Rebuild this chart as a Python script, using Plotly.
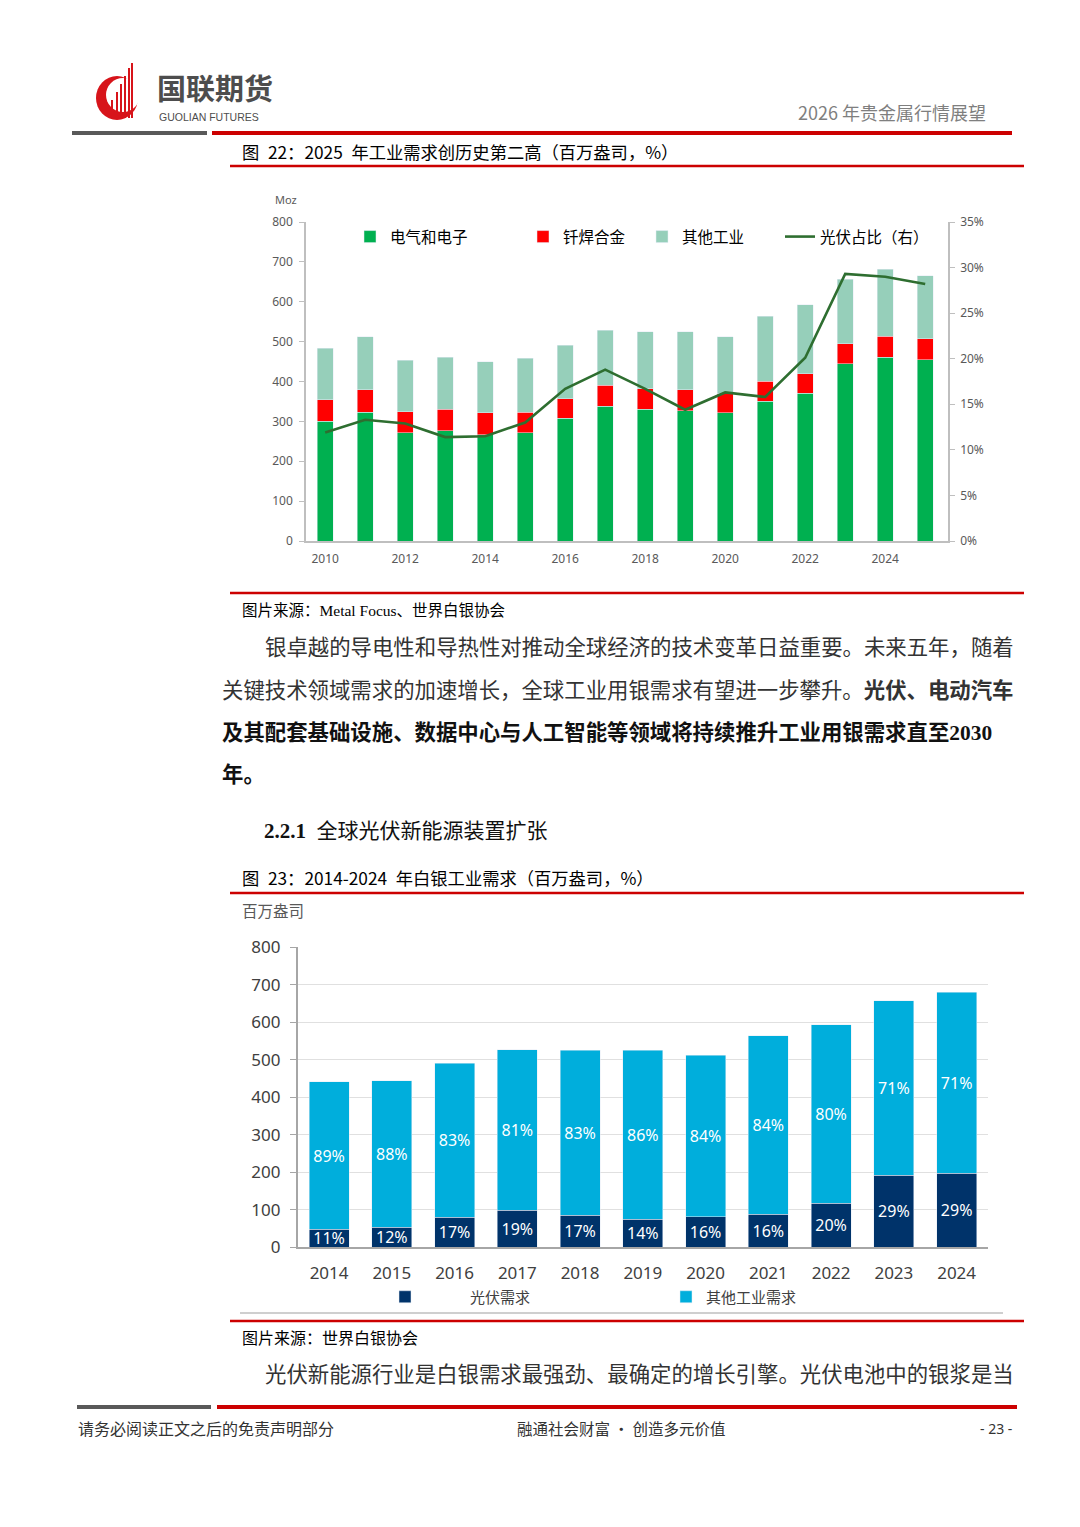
import plotly.graph_objects as go

# page is photographed at 1080x1527; the html body adds an 8px margin
PAGE_W, PAGE_H, BODY = 1080, 1527, 8
W, H = PAGE_W - 2 * BODY, PAGE_H - 2 * BODY

# ---- 图 22 数据（百万盎司 / 光伏占比）----
years_a = [2010, 2011, 2012, 2013, 2014, 2015, 2016, 2017,
           2018, 2019, 2020, 2021, 2022, 2023, 2024, 2025]
electrical = [300, 323, 271, 276, 267, 271, 308, 338,
              331, 327, 322, 351, 371, 445, 461, 455]
brazing = [54, 56, 53, 54, 55, 52, 49, 52,
           51, 52, 47, 50, 49, 50, 52, 52]
other_ind = [130, 133, 129, 131, 128, 135, 134, 138,
             143, 146, 143, 163, 172, 162, 168, 158]
pv_ratio = [0.119, 0.133, 0.129, 0.114, 0.115, 0.130, 0.167, 0.188,
            0.167, 0.144, 0.163, 0.158, 0.201, 0.293, 0.290, 0.282]
ticks_a = [2010, 2012, 2014, 2016, 2018, 2020, 2022, 2024]

# ---- 图 23 数据 ----
years_b = [2014, 2015, 2016, 2017, 2018, 2019, 2020, 2021, 2022, 2023, 2024]
pv_demand = [48, 53, 80, 99, 86, 75, 82, 88, 117, 192, 198]
other_demand = [393, 391, 411, 428, 439, 450, 430, 476, 476, 466, 482]
pv_share = [11, 12, 17, 19, 17, 14, 16, 16, 20, 29, 29]
other_share = [89, 88, 83, 81, 83, 86, 84, 84, 80, 71, 71]

CJK = "Noto Sans CJK SC"
RED = "#CC0000"
BODY_SIZE = 21.4


def px(x):
    return (x - BODY) / W


def py(y):
    return 1 - (y - BODY) / H


def hline(x0, x1, y, color, width):
    return dict(type="line", xref="paper", yref="paper",
                x0=px(x0), x1=px(x1), y0=py(y), y1=py(y),
                line=dict(color=color, width=width))


def label(x, y, text, size, color="#000", anchor="left", family=CJK, yanchor="middle"):
    return dict(x=px(x), y=py(y), xref="paper", yref="paper", text=text,
                showarrow=False, xanchor=anchor, yanchor=yanchor,
                font=dict(family=family, size=size, color=color))


fig = go.Figure()

# 图 22
fig.add_trace(go.Bar(x=years_a, y=electrical, name="电气和电子", width=0.4,
                     marker_color="#00B050", legend="legend"))
fig.add_trace(go.Bar(x=years_a, y=brazing, name="钎焊合金", width=0.4,
                     marker_color="#FF0000", legend="legend2"))
fig.add_trace(go.Bar(x=years_a, y=other_ind, name="其他工业", width=0.4,
                     marker_color="#96CFBA", legend="legend3"))
fig.add_trace(go.Scatter(x=years_a, y=pv_ratio, name="光伏占比（右）", yaxis="y2",
                         mode="lines", line=dict(color="#2E6E30", width=2.6),
                         legend="legend4"))

# 图 23
fig.add_trace(go.Bar(x=years_b, y=pv_demand, name="\u3000\u3000\u3000光伏需求",
                     xaxis="x2", yaxis="y3", width=0.64, marker_color="#00336A",
                     text=[f"{v}%" for v in pv_share], textposition="inside",
                     insidetextanchor="middle",
                     textfont=dict(family="Noto Sans", size=16, color="white"),
                     legend="legend5"))
fig.add_trace(go.Bar(x=years_b, y=other_demand, name="其他工业需求",
                     xaxis="x2", yaxis="y3", width=0.64, marker_color="#00AEDC",
                     text=[f"{v}%" for v in other_share], textposition="inside",
                     insidetextanchor="middle",
                     textfont=dict(family="Noto Sans", size=16, color="white"),
                     legend="legend6"))

tick_a = dict(family="Noto Sans", size=12, color="#595959")
tick_b = dict(family="Noto Sans", size=17, color="#404040")


def leg(x, y, size=15.5, color="#000"):
    return dict(x=px(x), y=py(y), xanchor="left", yanchor="middle",
                orientation="h", bgcolor="rgba(0,0,0,0)", borderwidth=0,
                font=dict(family=CJK, size=size, color=color))


shapes = [
    hline(72, 207, 133, "#595959", 4),
    hline(212, 1012, 133, RED, 4),
    hline(230, 1024, 166, RED, 2.5),
    hline(230, 1024, 593, RED, 2.5),
    hline(230, 1024, 893, RED, 2.5),
    hline(240, 1003, 1313, "#BFBFBF", 1.5),
    hline(230, 1024, 1321, RED, 2.5),
    hline(77, 211, 1407, "#595959", 4),
    hline(217, 1017, 1407, RED, 4),
    # logo
    dict(type="circle", xref="paper", yref="paper", x0=px(96), x1=px(138),
         y0=py(120), y1=py(76), fillcolor="#D7141A", line_width=0),
    dict(type="circle", xref="paper", yref="paper", x0=px(106), x1=px(140),
         y0=py(112), y1=py(78), fillcolor="white", line_width=0),
]
for xx, top in [(112, 100), (117, 92), (121, 84), (125, 76), (129, 68), (132, 63)]:
    shapes.append(dict(type="line", xref="paper", yref="paper", x0=px(xx), x1=px(xx),
                       y0=py(118), y1=py(top), line=dict(color="#D7141A", width=2)))

serif = "font-family:'Liberation Serif'"
annotations = [
    label(155, 110, "<b>国联期货</b>", 29, "#4D4D4D", yanchor="bottom"),
    label(157, 109, "GUOLIAN FUTURES", 10.5, "#4D4D4D", family="Liberation Sans", yanchor="top"),
    label(988, 112, "2026 年贵金属行情展望", 18, "#7F7F7F", anchor="right"),
    label(240, 151, "图\u200222：2025\u2002年工业需求创历史第二高（百万盎司，%）", 17.3),
    label(273, 200, "Moz", 11, "#595959", family="Noto Sans"),
    label(240, 609, f"图片来源：<span style=\"{serif}\">Metal Focus</span>、世界白银协会", 15.5),
    label(263, 645, "银卓越的导电性和导热性对推动全球经济的技术变革日益重要。未来五年，随着", BODY_SIZE, "#333"),
    label(220, 688, "关键技术领域需求的加速增长，全球工业用银需求有望进一步攀升。<b>光伏、电动汽车</b>", BODY_SIZE, "#333"),
    label(220, 730, f"<b>及其配套基础设施、数据中心与人工智能等领域将持续推升工业用银需求直至<span style=\"{serif}\">2030</span></b>", BODY_SIZE, "#111"),
    label(220, 772, "<b>年。</b>", BODY_SIZE, "#111"),
    label(262, 829, f"<b><span style=\"{serif}\">2.2.1</span></b>\u2002全球光伏新能源装置扩张", 21, "#111"),
    label(240, 878, "图\u200223：2014-2024\u2002年白银工业需求（百万盎司，%）", 17.3),
    label(240, 910, "百万盎司", 15.5, "#595959"),
    label(240, 1337, "图片来源：世界白银协会", 16),
    label(263, 1372, "光伏新能源行业是白银需求最强劲、最确定的增长引擎。光伏电池中的银浆是当", BODY_SIZE, "#333"),
    label(76, 1428, "请务必阅读正文之后的免责声明部分", 16, "#333"),
    label(621, 1428, "融通社会财富 • 创造多元价值", 15.5, "#333", anchor="center"),
    label(1014, 1428, "- 23 -", 14, "#333", anchor="right", family="Noto Sans"),
]

fig.update_layout(
    width=W, height=H, autosize=False,
    margin=dict(l=0, r=0, t=0, b=0, autoexpand=False),
    paper_bgcolor="white", plot_bgcolor="white",
    barmode="stack", showlegend=True,
    uniformtext=dict(minsize=16, mode="show"),
    xaxis=dict(domain=[px(306), px(948)], range=[2009.52, 2025.57],
               tickvals=ticks_a, ticks="", showline=True, linecolor="#BFBFBF",
               linewidth=1.5, showgrid=False, zeroline=False, tickfont=tick_a,
               ticklabelstandoff=6, anchor="y", automargin=False, fixedrange=True),
    yaxis=dict(domain=[py(541), py(222)], range=[0, 800], dtick=100,
               ticks="outside", ticklen=5, tickcolor="#BFBFBF", showline=True,
               linecolor="#BFBFBF", linewidth=1.5, showgrid=False, zeroline=False,
               tickfont=tick_a, ticklabelstandoff=4, anchor="x", automargin=False),
    yaxis2=dict(overlaying="y", side="right", anchor="x", range=[0, 0.35],
                dtick=0.05, tickformat=".0%", ticks="outside", ticklen=5,
                tickcolor="#BFBFBF", showline=True, linecolor="#BFBFBF",
                linewidth=1.5, showgrid=False, zeroline=False, tickfont=tick_a,
                ticklabelstandoff=3, automargin=False),
    xaxis2=dict(domain=[px(297.7), px(988)], range=[2013.5, 2024.5],
                tickvals=years_b, ticks="", showline=True, linecolor="#A6A6A6",
                linewidth=2, showgrid=False, zeroline=False, tickfont=tick_b,
                ticklabelstandoff=9, anchor="y3", automargin=False),
    yaxis3=dict(domain=[py(1247.3), py(947.3)], range=[0, 800], dtick=100,
                ticks="outside", ticklen=6, tickcolor="#A6A6A6", showline=True,
                linecolor="#A6A6A6", linewidth=1.5, showgrid=True,
                gridcolor="#E0E0E0", gridwidth=1.2, zeroline=False,
                tickfont=tick_b, ticklabelstandoff=6, anchor="x2", automargin=False),
    legend=leg(350, 237),
    legend2=leg(523, 237),
    legend3=leg(642, 237),
    legend4=leg(780, 237),
    legend5=leg(385, 1297, 15, "#404040"),
    legend6=leg(666, 1297, 15, "#404040"),
    shapes=shapes,
    annotations=annotations,
)

fig.write_html("out.html")
